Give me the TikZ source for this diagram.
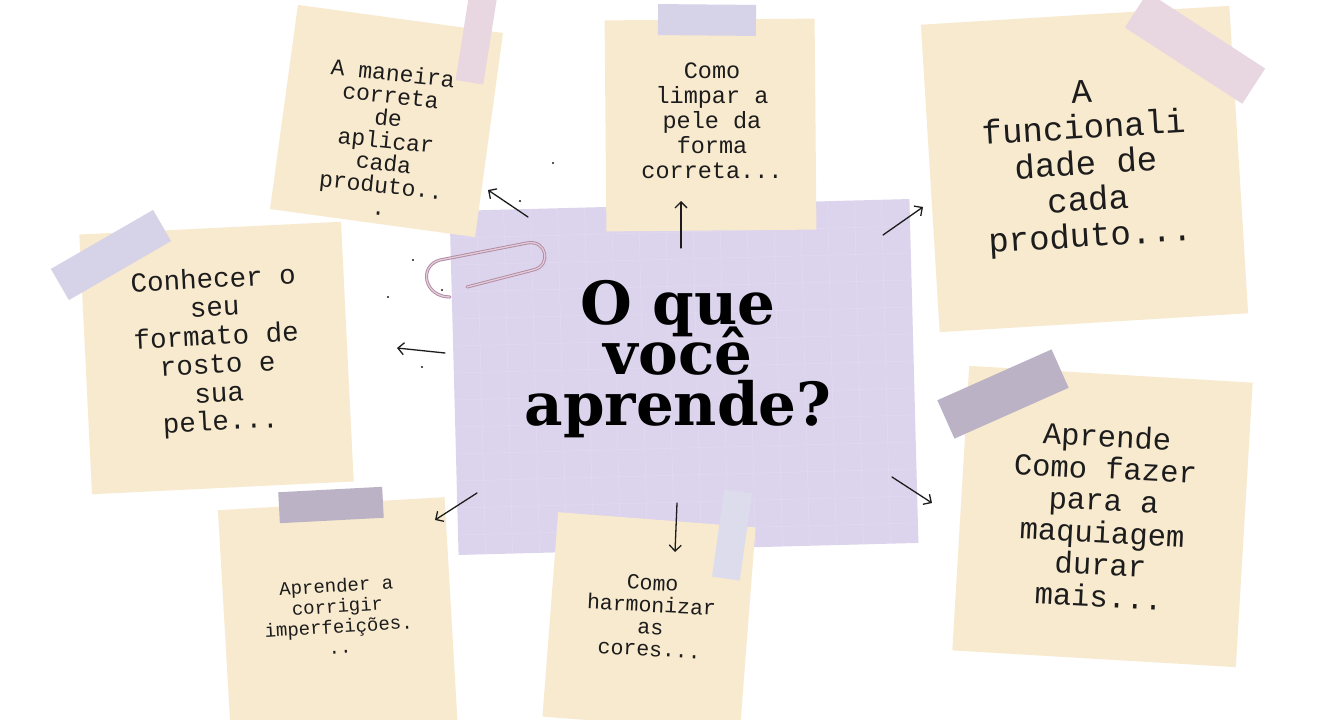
\documentclass[tikz,border=0pt]{standalone}
\usepackage{fontspec}
\setmonofont{Liberation Mono}
\newfontfamily\titlefont{DejaVu Serif}
\usetikzlibrary{arrows.meta}

\definecolor{noteC}{RGB}{248,234,207}
\definecolor{lilacC}{RGB}{220,212,236}
\definecolor{tapePink}{RGB}{232,214,224}
\definecolor{tapeLav}{RGB}{214,210,231}
\definecolor{tapeMauve}{RGB}{188,178,198}
\definecolor{tapePale}{RGB}{221,220,237}
\definecolor{clipDark}{RGB}{176,138,162}
\definecolor{clipLight}{RGB}{226,204,218}
\definecolor{inkC}{RGB}{28,28,28}

\lineskiplimit=-\maxdimen

\begin{document}
\begin{tikzpicture}[x=1pt,y=-1pt]
  % Parameters
  \def\pagew{1320}
  \def\pageh{720}
  \def\gridstep{27}

  \tikzset{
    note/.style={fill=noteC, inner sep=0pt},
    tape/.style={inner sep=0pt},
    memo/.style n args={2}{font=\ttfamily\fontsize{#1}{#2}\selectfont, text=inkC, align=center, inner sep=0pt},
    pointer/.style={inkC, line width=1.3pt, line cap=round, -{Straight Barb[length=6pt,width=12pt]}},
  }

  \useasboundingbox (0,0) rectangle (\pagew,\pageh);
  \clip (0,0) rectangle (\pagew,\pageh);
  \fill[white] (0,0) rectangle (\pagew,\pageh);

  % Lilac sheet in the middle
  \node[fill=lilacC, inner sep=0pt, minimum width=460pt, minimum height=344pt, rotate=1.5] (sheet) at (684,377) {};
  \begin{scope}[shift={(sheet.center)}, rotate=1.5]
    \foreach \k in {1,...,16}
      \draw[white, opacity=0.16, line width=0.5pt] (-230+\k*\gridstep,-172) -- (-230+\k*\gridstep,172);
    \foreach \k in {1,...,12}
      \draw[white, opacity=0.16, line width=0.5pt] (-230,-172+\k*\gridstep) -- (230,-172+\k*\gridstep);
  \end{scope}

  % Sticky notes
  \foreach \nm/\cx/\cy/\nw/\nh/\ang in {
      nManeira/386.5/121/207/206/-7.8,
      nLimpar/710.5/125/210/211/0.5,
      nFuncao/1084.5/169/309/308/3.5,
      nRosto/216.5/358/262/260/2.8,
      nDurar/1102.5/516.5/284/285/-3.4,
      nCorrigir/338/621/227/235/3.3,
      nCores/649/622/198/205/-4.4}
    \node[note, minimum width=\nw pt, minimum height=\nh pt, rotate=\ang] (\nm) at (\cx,\cy) {};

  % Tape strips
  \foreach \nm/\cx/\cy/\nw/\nh/\ang/\col in {
      tManeira/478/28/28/110/-9/tapePink,
      tLimpar/707/20/98/31/-0.5/tapeLav,
      tFuncao/1195/48/140/42/-33/tapePink,
      tRosto/111/255/118/36/30/tapeLav,
      tDurar/1003/394/125/42/24/tapeMauve,
      tCorrigir/331/505/104/31/3/tapeMauve,
      tCores/732/535/28/88/-8/tapePale}
    \node[tape, fill=\col, minimum width=\nw pt, minimum height=\nh pt, rotate=\ang] (\nm) at (\cx,\cy) {};

  % Paper clip
  \draw[draw=clipDark, double=clipLight, double distance=1.3pt, line width=0.9pt, line cap=round]
    (450,297) .. controls (424,297) and (418,266) .. (440,260) -- (527,243)
    .. controls (547,239) and (552,266) .. (533,270) -- (467,287);

  % Title
  \node[font=\titlefont\bfseries\fontsize{59.5}{50.5}\selectfont, text=black, align=center, inner sep=0pt]
    (title) at (678,359) {O que\\você\\aprende?};

  % Note texts
  \node[memo={23}{22.5}, rotate=-6] (nManeira-txt) at (386,140)
    {A maneira\\correta\\de\\aplicar\\cada\\produto..\\.};
  \node[memo={23.5}{25}] (nLimpar-txt) at (712,121)
    {Como\\limpar a\\pele da\\forma\\correta...};
  \node[memo={34}{36}, rotate=3.5] (nFuncao-txt) at (1086,167)
    {A\\funcionali\\dade de\\cada\\produto...};
  \node[memo={27.5}{28.5}, rotate=3] (nRosto-txt) at (217,352)
    {Conhecer o\\seu\\formato de\\rosto e\\sua\\pele...};
  \node[memo={30.5}{32}, rotate=-3] (nDurar-txt) at (1103,516)
    {Aprende\\Como fazer\\para a\\maquiagem\\durar\\mais...};
  \node[memo={19}{20.5}, rotate=3.5] (nCorrigir-txt) at (338,616)
    {Aprender a\\corrigir\\imperfeições.\\..};
  \node[memo={21.5}{22}, rotate=-3] (nCores-txt) at (651,616)
    {Como\\harmonizar\\as\\cores...};

  % Arrows from the sheet to the notes
  \foreach \nm/\sx/\sy/\ex/\ey in {
      aManeira/528/217/488/190,
      aLimpar/681/248/681/201,
      aFuncao/883/235/923/207,
      aRosto/445/353/397/348,
      aDurar/892/477/932/503,
      aCorrigir/477/493/435/520,
      aCores/677/503/675/552} {
    \coordinate (\nm-s) at (\sx,\sy);
    \coordinate (\nm-e) at (\ex,\ey);
    \draw[pointer] (\nm-s) -- (\nm-e);
  }

  % Specks
  \foreach \x/\y in {553/163, 520/201, 413/260, 442/290, 388/297, 422/367}
    \fill[inkC] (\x,\y) circle[radius=1.2pt];

\end{tikzpicture}
\end{document}
